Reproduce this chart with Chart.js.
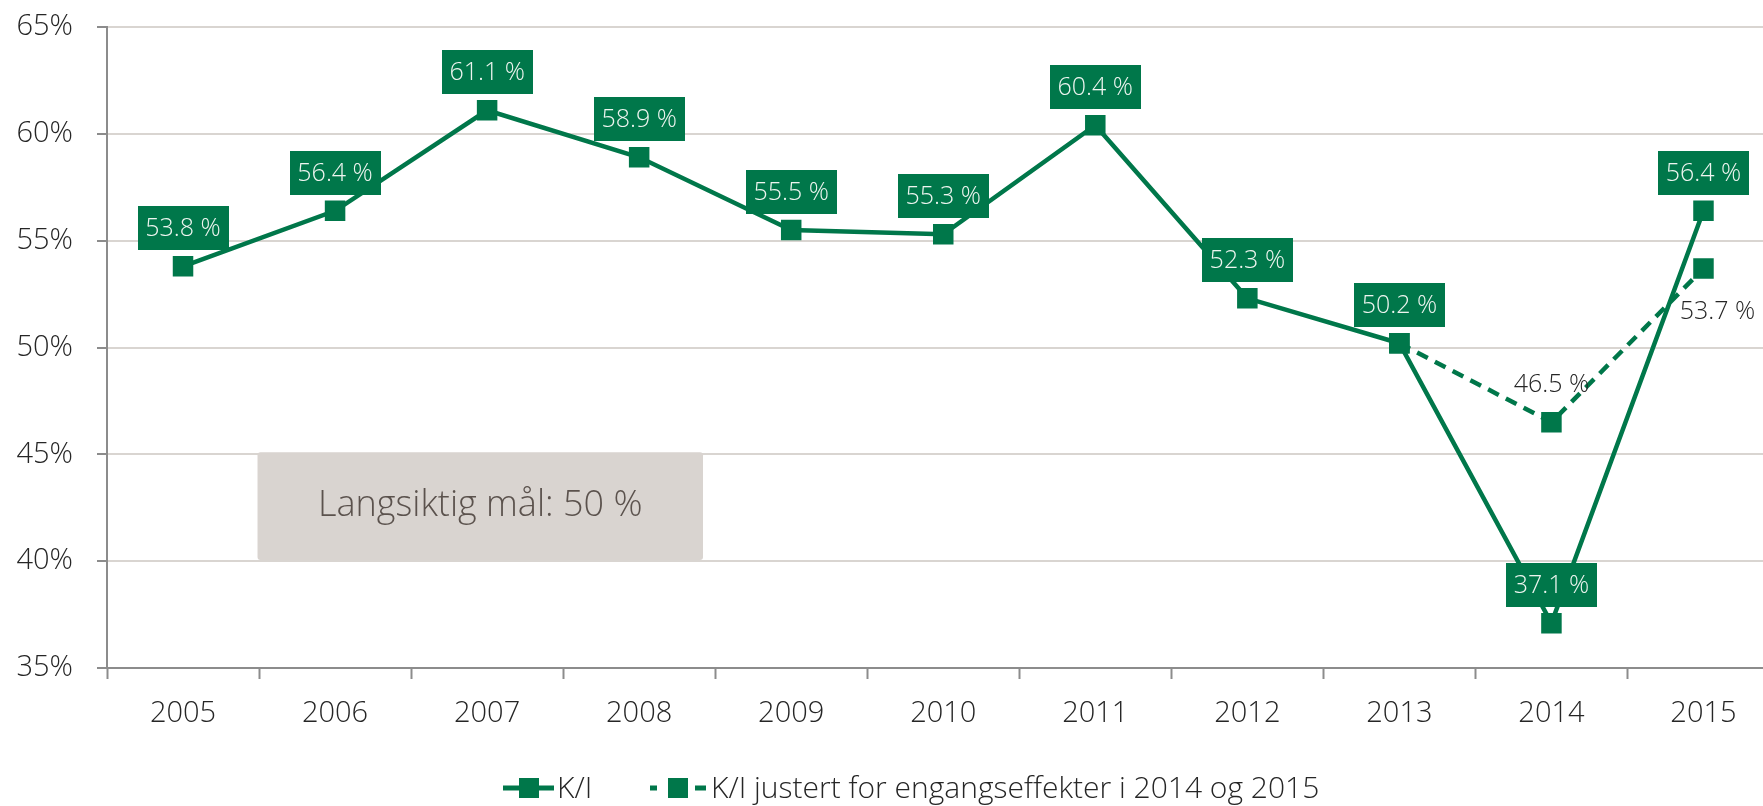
<!DOCTYPE html>
<html><head><meta charset="utf-8">
<script src="https://cdn.jsdelivr.net/npm/chart.js@4.4.1/dist/chart.umd.min.js"></script>
<style>
html,body{margin:0;padding:0;overflow:hidden;background:#fff;width:1763px;height:806px}
#wrap{width:1794px;height:806px;position:relative}
canvas{display:block}
</style></head>
<body><div id="wrap"><canvas id="c" width="1794" height="806" style="width:1794px;height:806px"></canvas></div>
<script>
// ---- data ----
const categories = ['2005','2006','2007','2008','2009','2010','2011','2012','2013','2014','2015'];
const kiValues = [53.8, 56.4, 61.1, 58.9, 55.5, 55.3, 60.4, 52.3, 50.2, 37.1, 56.4];
const kiAdjusted = [null, null, null, null, null, null, null, null, 50.2, 46.5, 53.7];
const yTicks = [35, 40, 45, 50, 55, 60, 65];
const seriesNames = ['K/I', 'K/I justert for engangseffekter i 2014 og 2015'];
const targetText = 'Langsiktig mål: 50 %';

// ---- style ----
const FONT = "'Open Sans', 'Noto Sans', sans-serif";
const GREEN = '#00774a';
const fmt = v => v.toFixed(1) + ' %';

const targetBoxPlugin = {
  id: 'targetBox',
  beforeDatasetsDraw(chart) {
    const {ctx, scales: {x, y}} = chart;
    const x0 = x.getPixelForValue(0.49), x1 = x.getPixelForValue(3.42);
    const y0 = y.getPixelForValue(45.1), y1 = y.getPixelForValue(40.05);
    ctx.save();
    ctx.fillStyle = '#d9d4d0';
    ctx.beginPath();
    if (ctx.roundRect) ctx.roundRect(x0, y0, x1 - x0, y1 - y0, 3); else ctx.rect(x0, y0, x1 - x0, y1 - y0);
    ctx.fill();
    ctx.fillStyle = '#5b524d';
    ctx.font = '300 36px ' + FONT;
    ctx.textAlign = 'center';
    ctx.textBaseline = 'middle';
    ctx.fillText(targetText, (x0 + x1) / 2, (y0 + y1) / 2);
    ctx.restore();
  }
};

const labelPlugin = {
  id: 'valueLabels',
  afterDatasetsDraw(chart) {
    const ctx = chart.ctx;
    ctx.save();
    ctx.font = '300 25px ' + FONT;
    ctx.textAlign = 'center';
    ctx.textBaseline = 'middle';
    const m0 = chart.getDatasetMeta(0);
    m0.data.forEach((pt, i) => {
      const txt = fmt(kiValues[i]);
      const w = Math.round(ctx.measureText(txt).width + 16);
      const h = 44;
      const bottom = Math.round(pt.y - 16);
      ctx.fillStyle = GREEN;
      ctx.fillRect(Math.round(pt.x - w / 2), bottom - h, w, h);
      ctx.fillStyle = '#eef5f0';
      ctx.fillText(txt, pt.x, bottom - h / 2 + 1);
    });
    const m1 = chart.getDatasetMeta(1);
    ctx.fillStyle = '#262626';
    const place = {9: [0, -37], 10: [14, 43]};
    Object.keys(place).forEach(k => {
      const i = +k, pt = m1.data[i];
      ctx.fillText(fmt(kiAdjusted[i]), pt.x + place[k][0], pt.y + place[k][1]);
    });
    ctx.restore();
  }
};

const legendPlugin = {
  id: 'customLegend',
  afterDraw(chart) {
    const ctx = chart.ctx;
    const yc = 788;
    ctx.save();
    ctx.font = '300 30px ' + FONT;
    ctx.textBaseline = 'middle';
    ctx.textAlign = 'left';
    // item 1
    let x = 503;
    ctx.strokeStyle = GREEN; ctx.fillStyle = GREEN; ctx.lineWidth = 5;
    ctx.beginPath(); ctx.moveTo(x, yc); ctx.lineTo(x + 51, yc); ctx.stroke();
    ctx.fillRect(x + 16, yc - 10, 20, 20);
    ctx.fillStyle = '#262626';
    ctx.fillText(seriesNames[0], x + 54, yc + 1);
    // item 2
    x = 650;
    ctx.fillStyle = GREEN;
    ctx.beginPath(); ctx.moveTo(x, yc); ctx.lineTo(x + 7, yc); ctx.moveTo(x + 45, yc); ctx.lineTo(x + 56, yc); ctx.stroke();
    ctx.fillRect(x + 18, yc - 10, 20, 20);
    ctx.fillStyle = '#262626';
    ctx.fillText(seriesNames[1], x + 61, yc + 1);
    ctx.restore();
  }
};

new Chart(document.getElementById('c'), {
  type: 'line',
  data: {
    labels: categories,
    datasets: [
      {label: seriesNames[0], data: kiValues, borderColor: GREEN, backgroundColor: GREEN,
       borderWidth: 4.5, pointStyle: 'rect', pointRadius: 14.5, pointHoverRadius: 14.5,
       pointBorderWidth: 0, pointBackgroundColor: GREEN, tension: 0, order: 1},
      {label: seriesNames[1], data: kiAdjusted, borderColor: GREEN, backgroundColor: GREEN,
       borderWidth: 4.5, borderDash: [12, 8], pointStyle: 'rect', pointRadius: 14.5, pointHoverRadius: 14.5,
       pointBorderWidth: 0, pointBackgroundColor: GREEN, tension: 0, spanGaps: false, order: 2}
    ]
  },
  options: {
    responsive: false,
    animation: false,
    devicePixelRatio: 1,
    layout: {padding: {top: 27, right: 2, left: 0, bottom: 0}},
    plugins: {legend: {display: false}, tooltip: {enabled: false}},
    scales: {
      x: {
        offset: true,
        grid: {offset: true, drawOnChartArea: false, drawTicks: true, tickLength: 11, tickColor: '#8c8c8c', tickWidth: 2},
        border: {color: '#8c8c8c', width: 2},
        ticks: {color: '#262626', font: {family: FONT, size: 29, weight: '300'}, padding: 17, maxRotation: 0, autoSkip: false},
        afterFit(s) { s.height = 138; s.paddingLeft = 0; s.paddingRight = 0; }
      },
      y: {
        min: 35, max: 65,
        afterBuildTicks(s) { s.ticks = yTicks.map(v => ({value: v})); },
        grid: {color: '#d9d5d1', lineWidth: 2, tickLength: 10, tickColor: '#8c8c8c', tickWidth: 2},
        border: {color: '#8c8c8c', width: 2},
        ticks: {color: '#262626', font: {family: FONT, size: 29, weight: '300'}, padding: 24,
                callback: v => v + '%'},
        afterFit(s) { s.width = 107; s.paddingTop = 0; s.paddingBottom = 0; }
      }
    }
  },
  plugins: [targetBoxPlugin, labelPlugin, legendPlugin]
});
</script>
</body></html>
